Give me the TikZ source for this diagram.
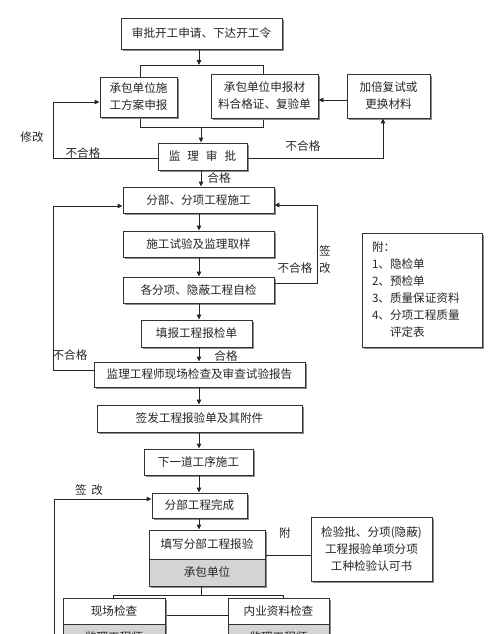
\documentclass[tikz,border=0pt]{standalone}
\usepackage{fontspec}
\setmainfont{Noto Sans CJK SC}
\usetikzlibrary{shadows,arrows.meta}
\newcommand{\fs}{\fontsize{11.6}{17}\selectfont}
\begin{document}
\begin{tikzpicture}[x=1pt,y=-1pt,
  box/.style={draw=black!80, line width=0.9pt, fill=white, inner sep=0pt,
    drop shadow={shadow xshift=2pt, shadow yshift=-2pt, fill=black!45, opacity=1},
    text=black!85, font=\fs, align=center},
  graybox/.style={box, fill=black!17},
  ln/.style={line width=0.9pt, draw=black!85},
  arr/.style={ln, -{Triangle[length=5pt,width=4.5pt]}},
  lab/.style={text=black!85, font=\fs, inner sep=0pt}]
\useasboundingbox (0,0) rectangle (500,634);
% group brackets
\draw[ln] (140,65) rectangle (263,127);
\draw[ln] (113,595) rectangle (283,615);
% nodes
\node[box, minimum width=161, minimum height=31] (b1) at (201.5,33.5) {审批开工申请、下达开工令};
\node[box, minimum width=77, minimum height=40] (b2) at (138.5,97) {承包单位施\\工方案申报};
\node[box, minimum width=107, minimum height=44] (b3) at (264.5,96) {承包单位申报材\\料合格证、复验单};
\node[box, minimum width=83, minimum height=44] (b4) at (388.5,96) {加倍复试或\\更换材料};
\node[box, minimum width=89, minimum height=27] (b5) at (202.5,156.5) {监\hspace{0.6em}理\hspace{0.6em}审\hspace{0.6em}批};
\node[box, minimum width=151, minimum height=26] (b6) at (198.5,200) {分部、分项工程施工};
\node[box, minimum width=151, minimum height=26] (b7) at (198.5,244) {施工试验及监理取样};
\node[box, minimum width=151, minimum height=26] (b8) at (198.5,290) {各分项、隐蔽工程自检};
\node[box, minimum width=111, minimum height=27] (b9) at (196.5,333.5) {填报工程报检单};
\node[box, minimum width=211, minimum height=25] (b10) at (199.5,374.5) {监理工程师现场检查及审查试验报告};
\node[box, minimum width=205, minimum height=27] (b11) at (199.5,418.5) {签发工程报验单及其附件};
\node[box, minimum width=109, minimum height=26] (b12) at (198.5,462) {下一道工序施工};
\node[box, minimum width=95, minimum height=25] (b13) at (199.5,505.5) {分部工程完成};
\node[box, minimum width=116, minimum height=29] (b14) at (207,544.5) {填写分部工程报验};
\node[graybox, minimum width=116, minimum height=27] (b14g) at (207,572.5) {承包单位};
\node[box, minimum width=121, minimum height=64] (b15) at (371.5,549) {检验批、分项(隐蔽)\\工程报验单项分项\\工种检验认可书};
\node[box, minimum width=102, minimum height=26] (b16) at (114,611) {现场检查};
\node[graybox, minimum width=102, minimum height=26] (b16g) at (114,637) {监理工程师};
\node[box, minimum width=101, minimum height=26] (b17) at (278.5,611) {内业资料检查};
\node[graybox, minimum width=101, minimum height=26] (b17g) at (278.5,637) {监理工程师};
\node[box, minimum width=120, minimum height=114, text width=100, inner xsep=10, align=left] (note) at (422,290)
  {附：\\1、隐检单\\2、预检单\\3、质量保证资料\\4、分项工程质量\\\hphantom{4、}评定表};
% connectors
\draw[arr] (b1.south -| 199,0) -- (199,65);
\draw[arr] (201,127) -- (b5.north -| 201,0);
\draw[arr] (b4.west |- 0,100) -- (b3.east |- 0,100);
\draw[arr] (b5.east |- 0,158) -- (383,158) -- (b4.south -| 383,0);
\draw[arr] (b5.west |- 0,158) -- (53,158) -- (53,102) -- (b2.west |- 0,102);
\draw[arr] (b5.south -| 201,0) -- (b6.north -| 201,0);
\draw[arr] (b6.south -| 199,0) -- (b7.north -| 199,0);
\draw[arr] (b7.south -| 199,0) -- (b8.north -| 199,0);
\draw[arr] (b8.south -| 199,0) -- (b9.north -| 199,0);
\draw[arr] (b9.south -| 199,0) -- (b10.north -| 199,0);
\draw[arr] (b10.south -| 199,0) -- (b11.north -| 199,0);
\draw[arr] (b11.south -| 199,0) -- (b12.north -| 199,0);
\draw[arr] (b12.south -| 199,0) -- (b13.north -| 199,0);
\draw[arr] (b13.south -| 199,0) -- (b14.north -| 199,0);
\draw[arr] (b8.east |- 0,283) -- (317,283) -- (317,205) -- (b6.east |- 0,205);
\draw[arr] (b10.west |- 0,370) -- (53,370) -- (53,206) -- (b6.west |- 0,206);
\draw[arr] (54,640) -- (54,499) -- (b13.west |- 0,499);
\draw[ln] (b14.east |- 0,555) -- (b15.west |- 0,555);
\draw[ln] (b14g.south -| 201,0) -- (201,595);
% labels
\node[lab] (l1) at (32,137) {修改};
\node[lab] (l2) at (83,153) {不合格};
\node[lab] (l3) at (303,146) {不合格};
\node[lab] (l4) at (219,178) {合格};
\node[lab] (l5) at (295,268) {不合格};
\node[lab] (l6) at (325,251) {签};
\node[lab] (l7) at (325,268) {改};
\node[lab] (l8) at (70,355) {不合格};
\node[lab] (l9) at (226,356) {合格};
\node[lab] (l10) at (89,490) {签\hspace{0.4em}改};
\node[lab] (l11) at (285,533) {附};
\end{tikzpicture}
\end{document}
